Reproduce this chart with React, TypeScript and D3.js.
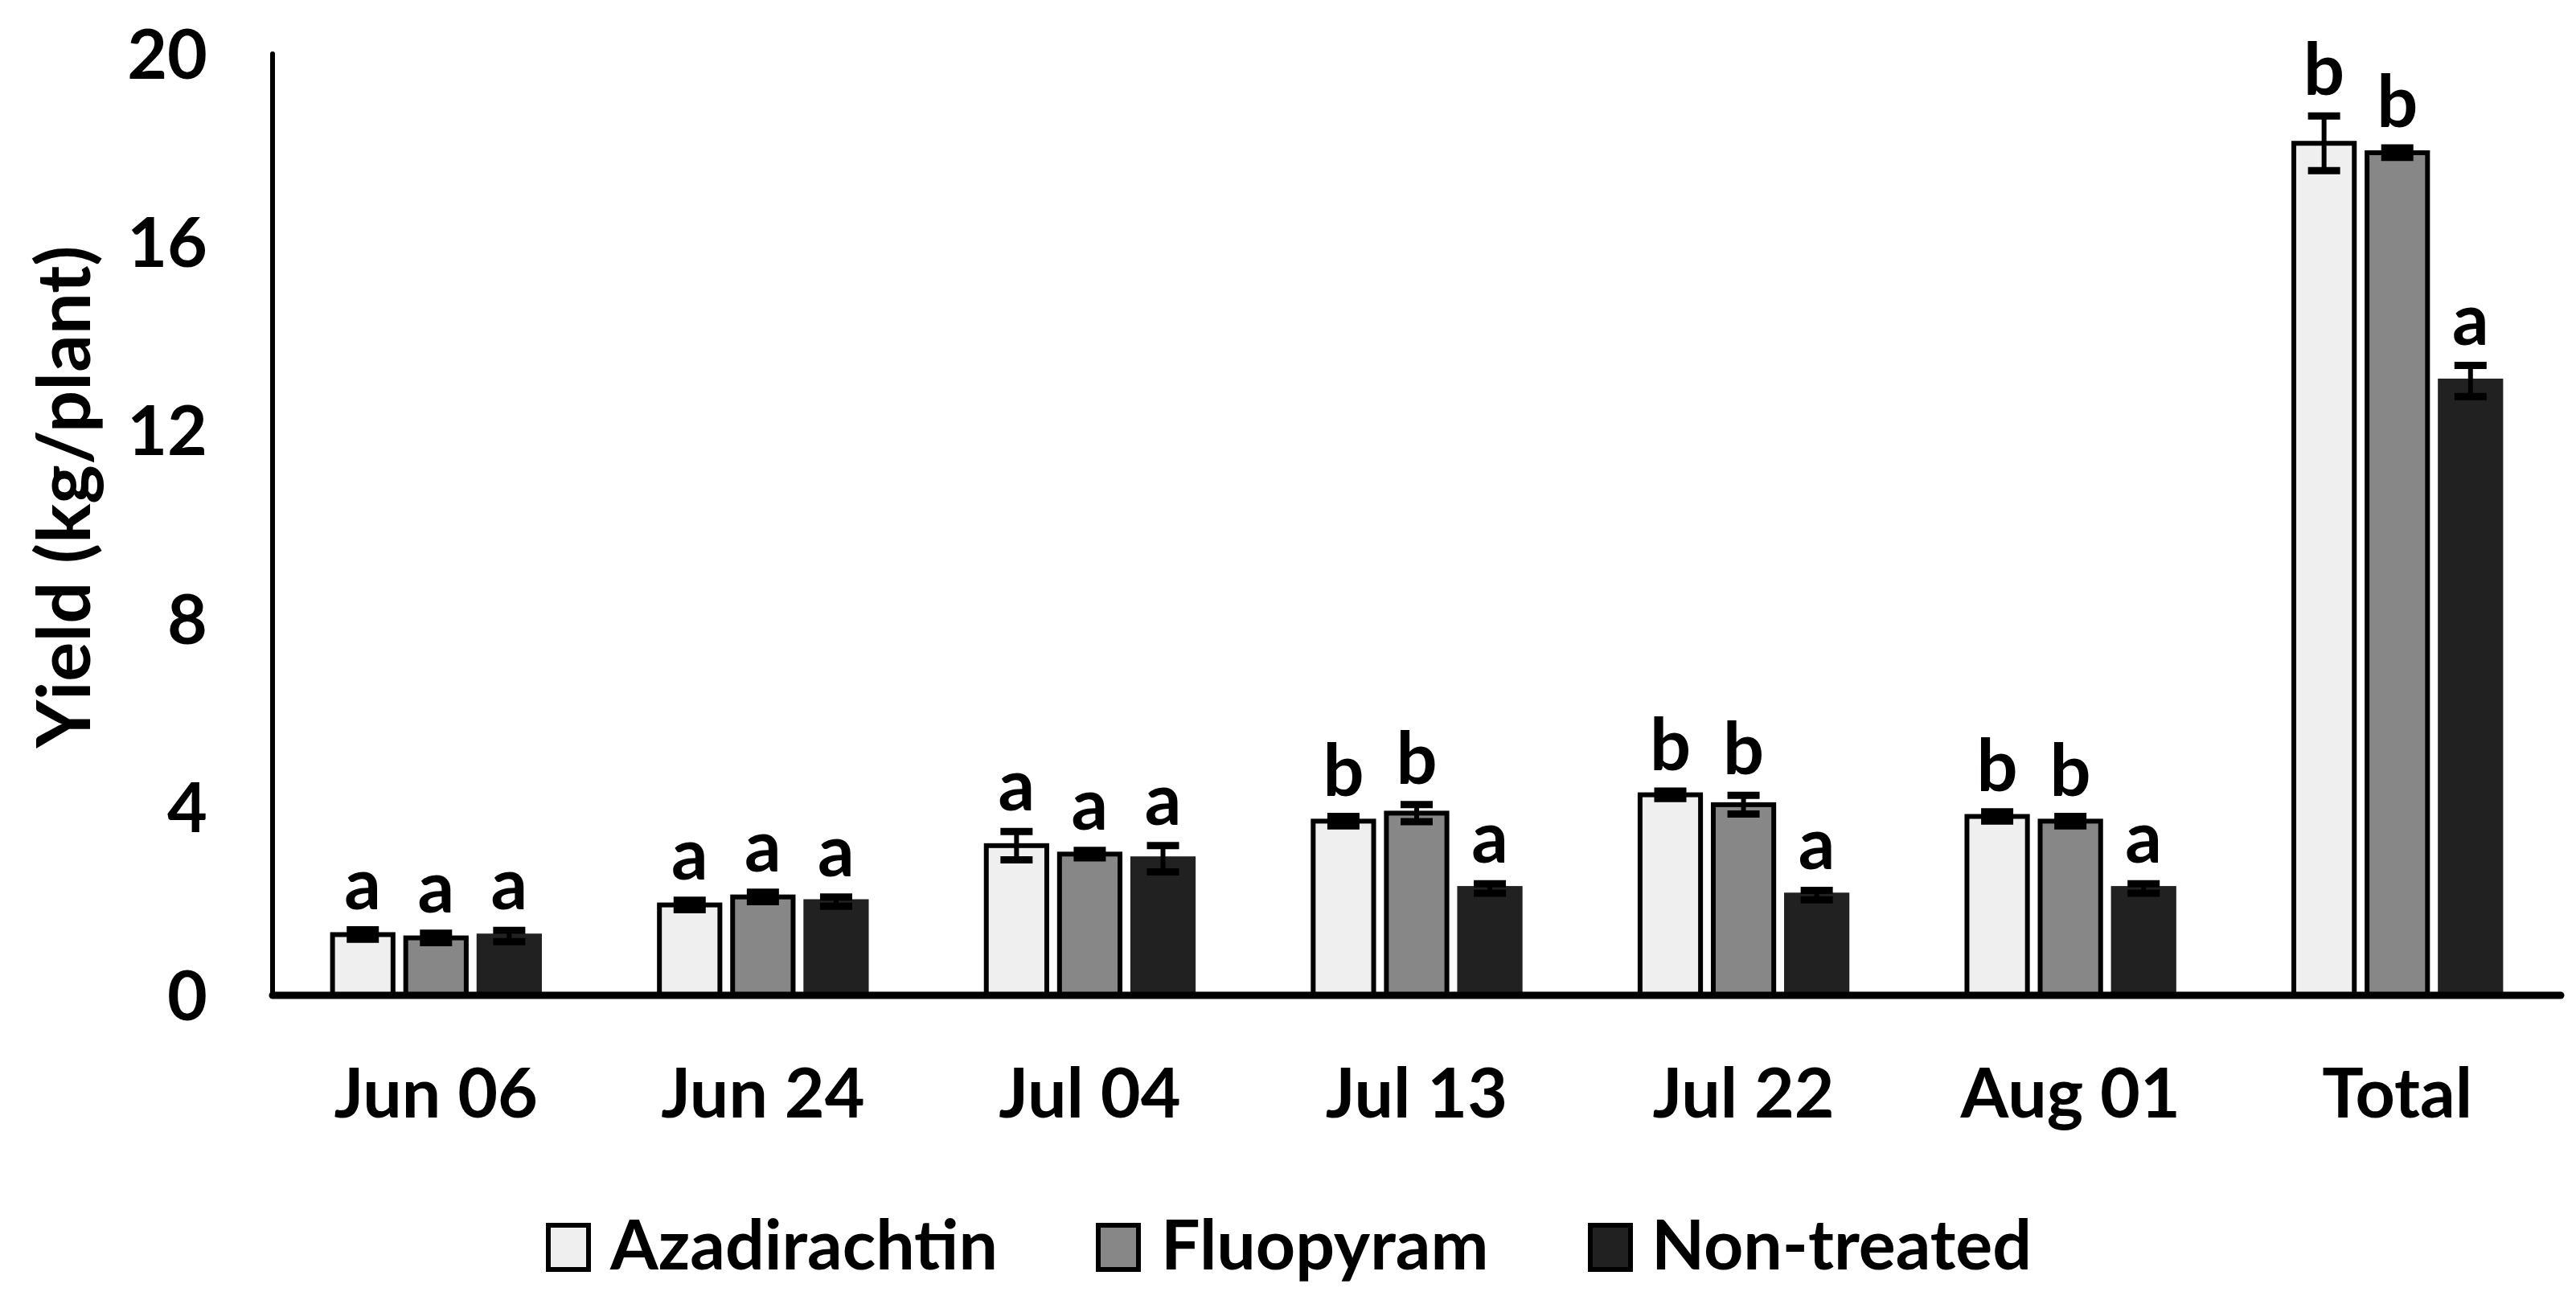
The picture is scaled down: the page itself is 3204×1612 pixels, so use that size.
import React from "react";
import * as d3 from "d3";

const categories = ["Jun 06", "Jun 24", "Jul 04", "Jul 13", "Jul 22", "Aug 01", "Total"];
const seriesNames = ["Azadirachtin", "Fluopyram", "Non-treated"];
const azadirachtin = [1.29, 1.92, 3.18, 3.7, 4.26, 3.8, 18.1];
const fluopyram = [1.22, 2.09, 3.0, 3.87, 4.05, 3.7, 17.9];
const nonTreated = [1.26, 1.99, 2.9, 2.27, 2.13, 2.27, 13.05];
const azErr = [0.1, 0.1, 0.3, 0.1, 0.08, 0.1, 0.58];
const flErr = [0.1, 0.1, 0.08, 0.18, 0.2, 0.1, 0.1];
const ntErr = [0.12, 0.1, 0.28, 0.1, 0.1, 0.1, 0.33];
const azLetters = ["a", "a", "a", "b", "b", "b", "b"];
const flLetters = ["a", "a", "a", "b", "b", "b", "b"];
const ntLetters = ["a", "a", "a", "a", "a", "a", "a"];
const yTicks = [0, 4, 8, 12, 16, 20];

const series = [
  { name: seriesNames[0], values: azadirachtin, err: azErr, letters: azLetters, fill: "#efefef", stroke: "#000" },
  { name: seriesNames[1], values: fluopyram, err: flErr, letters: flLetters, fill: "#878787", stroke: "#000" },
  { name: seriesNames[2], values: nonTreated, err: ntErr, letters: ntLetters, fill: "#212121", stroke: "#212121" },
];

const W = 3204;
const H = 1612;
const FONT = "Lato, 'Open Sans', sans-serif";

export default function App() {
  const x0 = 339;
  const x1 = 3185;
  const yBase = 1238;
  const yTop = 67;
  const x = d3.scaleBand<string>().domain(categories).range([x0, x1]).padding(0);
  const y = d3.scaleLinear().domain([0, 20]).range([yBase, yTop]);
  const bw = x.bandwidth();
  const step = bw * 0.224;
  const barW = bw * 0.185;
  const legendX = [682, 1366, 1978];
  const legendTextX = [759, 1444, 2054];

  return (
    <svg
      width={W}
      height={H}
      style={{ position: "absolute", left: 0, top: 0, background: "#fff" }}
      fontFamily={FONT}
      fontWeight={700}
    >
      <rect x={0} y={0} width={W} height={H} fill="#fff" />
      {yTicks.map((t) => (
        <text key={t} x={258} y={y(t)} dy="0.36em" textAnchor="end" fontSize={86} fill="#000">
          {t}
        </text>
      ))}
      <text transform={`translate(112,618) rotate(-90)`} textAnchor="middle" fontSize={92} fill="#000">
        Yield (kg/plant)
      </text>
      {categories.map((c, ci) => {
        const cx = (x(c) as number) + bw / 2;
        return (
          <g key={c}>
            {series.map((s, si) => {
              const bx = cx + (si - 1) * step;
              const v = s.values[ci];
              const e = s.err[ci];
              const capW = 40;
              return (
                <g key={s.name}>
                  <rect
                    x={bx - barW / 2}
                    y={y(v)}
                    width={barW}
                    height={yBase - y(v)}
                    fill={s.fill}
                    stroke={s.stroke}
                    strokeWidth={6}
                  />
                  <line x1={bx} x2={bx} y1={y(v + e)} y2={y(v - e)} stroke="#000" strokeWidth={6} />
                  <line x1={bx - capW / 2} x2={bx + capW / 2} y1={y(v + e)} y2={y(v + e)} stroke="#000" strokeWidth={9} />
                  <line x1={bx - capW / 2} x2={bx + capW / 2} y1={y(v - e)} y2={y(v - e)} stroke="#000" strokeWidth={9} />
                  <text x={bx} y={y(v + e) - 26} textAnchor="middle" fontSize={90} fill="#000">
                    {s.letters[ci]}
                  </text>
                </g>
              );
            })}
            <text x={cx} y={1390} textAnchor="middle" fontSize={86} fill="#000">
              {c}
            </text>
          </g>
        );
      })}
      <line x1={x0} x2={x0} y1={yTop} y2={yBase} stroke="#000" strokeWidth={6} strokeLinecap="round" />
      <line x1={x0} x2={x1} y1={yBase} y2={yBase} stroke="#000" strokeWidth={9} strokeLinecap="round" />
      {series.map((s, i) => (
        <g key={s.name}>
          <rect x={legendX[i]} y={1524} width={50} height={55} fill={s.fill} stroke="#000" strokeWidth={6} />
          <text x={legendTextX[i]} y={1579} fontSize={86} fill="#000">
            {s.name}
          </text>
        </g>
      ))}
    </svg>
  );
}
